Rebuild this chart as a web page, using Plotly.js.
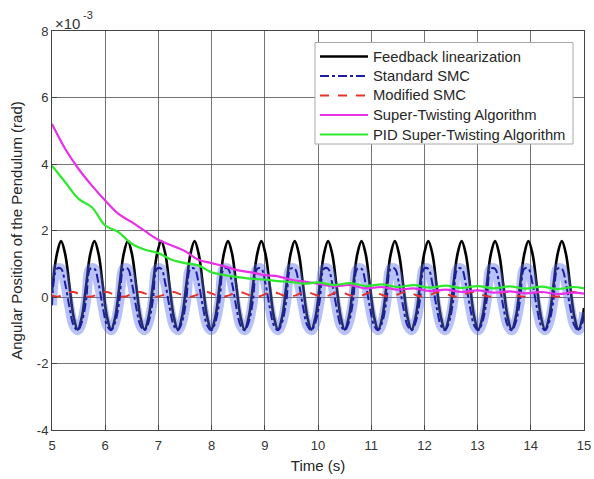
<!DOCTYPE html>
<html><head><meta charset="utf-8">
<script src="https://cdn.plot.ly/plotly-3.0.1.min.js"></script>
<style>html,body{margin:0;padding:0;background:#fff;}#chart{width:594px;height:479px;}</style>
</head><body><div id="chart"></div>
<script>
// Time samples for the oscillating responses (s)
var tOsc = [5.000,5.092,
5.170,5.248,5.327,5.405,5.484,5.562,5.641,5.719,
5.798,5.876,5.954,6.033,6.111,6.190,6.268,6.347,
6.425,6.503,6.582,6.660,6.739,6.817,6.896,6.974,
7.053,7.131,7.209,7.288,7.366,7.445,7.523,7.602,
7.680,7.758,7.837,7.915,7.994,8.072,8.151,8.229,
8.308,8.386,8.464,8.543,8.621,8.700,8.778,8.857,
8.935,9.013,9.092,9.170,9.249,9.327,9.406,9.484,
9.563,9.641,9.719,9.798,9.876,9.955,10.033,10.112,
10.190,10.268,10.347,10.425,10.504,10.582,10.661,10.739,
10.818,10.896,10.974,11.053,11.131,11.210,11.288,11.367,
11.445,11.523,11.602,11.680,11.759,11.837,11.916,11.994,
12.073,12.151,12.229,12.308,12.386,12.465,12.543,12.622,
12.700,12.778,12.857,12.935,13.014,13.092,13.171,13.249,
13.328,13.406,13.484,13.563,13.641,13.720,13.798,13.877,
13.955,14.033,14.112,14.190,14.269,14.347,14.426,14.504,
14.583,14.661,14.739,14.818,14.896,14.975,15.000];

// Feedback linearization (x1e-3 rad)
var feedbackLin = [0.19,1.29,
1.68,1.29,0.35,-0.59,-0.98,-0.59,0.35,1.29,
1.68,1.29,0.35,-0.59,-0.98,-0.59,0.35,1.29,
1.68,1.29,0.35,-0.59,-0.98,-0.59,0.35,1.29,
1.68,1.29,0.35,-0.59,-0.98,-0.59,0.35,1.29,
1.68,1.29,0.35,-0.59,-0.98,-0.59,0.35,1.29,
1.68,1.29,0.35,-0.59,-0.98,-0.59,0.35,1.29,
1.68,1.29,0.35,-0.59,-0.98,-0.59,0.35,1.29,
1.68,1.29,0.35,-0.59,-0.98,-0.59,0.35,1.29,
1.68,1.29,0.35,-0.59,-0.98,-0.59,0.35,1.29,
1.68,1.29,0.35,-0.59,-0.98,-0.59,0.35,1.29,
1.68,1.29,0.35,-0.59,-0.98,-0.59,0.35,1.29,
1.68,1.29,0.35,-0.59,-0.98,-0.59,0.35,1.29,
1.68,1.29,0.35,-0.59,-0.98,-0.59,0.35,1.29,
1.68,1.29,0.35,-0.59,-0.98,-0.59,0.35,1.29,
1.68,1.29,0.35,-0.59,-0.98,-0.59,0.35,1.29,
1.68,1.29,0.35,-0.59,-0.98,-0.59,-0.33];

// Standard SMC (x1e-3 rad)
var standardSMC = [-0.25,0.85,
0.85,0.40,-0.30,-0.85,-1.00,-0.75,-0.10,0.85,
0.85,0.40,-0.30,-0.85,-1.00,-0.75,-0.10,0.85,
0.85,0.40,-0.30,-0.85,-1.00,-0.75,-0.10,0.85,
0.85,0.40,-0.30,-0.85,-1.00,-0.75,-0.10,0.85,
0.85,0.40,-0.30,-0.85,-1.00,-0.75,-0.10,0.85,
0.85,0.40,-0.30,-0.85,-1.00,-0.75,-0.10,0.85,
0.85,0.40,-0.30,-0.85,-1.00,-0.75,-0.10,0.85,
0.85,0.40,-0.30,-0.85,-1.00,-0.75,-0.10,0.85,
0.85,0.40,-0.30,-0.85,-1.00,-0.75,-0.10,0.85,
0.85,0.40,-0.30,-0.85,-1.00,-0.75,-0.10,0.85,
0.85,0.40,-0.30,-0.85,-1.00,-0.75,-0.10,0.85,
0.85,0.40,-0.30,-0.85,-1.00,-0.75,-0.10,0.85,
0.85,0.40,-0.30,-0.85,-1.00,-0.75,-0.10,0.85,
0.85,0.40,-0.30,-0.85,-1.00,-0.75,-0.10,0.85,
0.85,0.40,-0.30,-0.85,-1.00,-0.75,-0.10,0.85,
0.85,0.40,-0.30,-0.85,-1.00,-0.75,-0.45];

// Modified SMC (x1e-3 rad)
var modifiedSMC = [0.05,0.01,
0.04,0.09,0.14,0.15,0.11,0.06,0.02,0.01,
0.04,0.09,0.14,0.15,0.11,0.06,0.02,0.01,
0.04,0.09,0.14,0.15,0.11,0.06,0.02,0.01,
0.04,0.09,0.14,0.15,0.11,0.06,0.02,0.01,
0.04,0.09,0.14,0.15,0.11,0.06,0.02,0.01,
0.04,0.09,0.14,0.15,0.11,0.06,0.02,0.01,
0.04,0.09,0.14,0.15,0.11,0.06,0.02,0.01,
0.04,0.09,0.14,0.15,0.11,0.06,0.02,0.01,
0.04,0.09,0.14,0.15,0.11,0.06,0.02,0.01,
0.04,0.09,0.14,0.15,0.11,0.06,0.02,0.01,
0.04,0.09,0.14,0.15,0.11,0.06,0.02,0.01,
0.04,0.09,0.14,0.15,0.11,0.06,0.02,0.01,
0.04,0.09,0.14,0.15,0.11,0.06,0.02,0.01,
0.04,0.09,0.14,0.15,0.11,0.06,0.02,0.01,
0.04,0.09,0.14,0.15,0.11,0.06,0.02,0.01,
0.04,0.09,0.14,0.15,0.11,0.06,0.03];

// Time samples for the decaying responses (s)
var tDecay = [5.00,5.25,5.50,5.75,6.00,6.25,6.50,6.75,7.00,7.25,7.50,7.75,8.00,8.25,8.50,8.75,
9.00,9.25,9.50,9.75,10.00,10.30,10.60,10.90,11.20,11.50,11.80,12.10,12.40,12.70,
13.00,13.30,13.60,13.90,14.20,14.50,14.80,15.00];

// Super-Twisting Algorithm (x1e-3 rad)
var superTwisting = [5.20,4.45,3.85,3.35,2.90,2.50,2.25,1.98,1.72,1.55,1.38,1.12,1.02,0.92,0.80,0.74,
0.66,0.62,0.52,0.46,0.40,0.32,0.36,0.26,0.30,0.22,0.26,0.18,0.22,0.15,
0.20,0.13,0.17,0.11,0.15,0.09,0.13,0.10];

// PID Super-Twisting Algorithm (x1e-3 rad)
var pidSuperTwisting = [3.95,3.45,2.95,2.70,2.15,1.95,1.60,1.42,1.32,1.12,1.02,0.95,0.74,0.66,0.60,0.55,
0.52,0.48,0.45,0.40,0.44,0.36,0.42,0.33,0.38,0.30,0.36,0.28,0.34,0.27,
0.33,0.26,0.32,0.25,0.31,0.24,0.30,0.26];

var xTicks = [5,6,7,8,9,10,11,12,13,14,15];
var yTickVals = [-4,-2,0,2,4,6,8];
var yTickText = ['-4','-2','0','2','4','6','8'];

var seriesNames = ['Feedback linearization','Standard SMC','Modified SMC','Super-Twisting Algorithm','PID Super-Twisting Algorithm'];
var seriesColors = ['#000000','#1c1ca6','#e8322e','#e830e8','#2ee82e'];
var seriesDash = ['solid','dashdot','dash','solid','solid'];
var seriesWidth = [2.6,2,2,2.2,2.2];

var F = 'Liberation Sans, Arial, sans-serif';
function ln(i){ return {color:seriesColors[i], width:seriesWidth[i], dash:seriesDash[i], shape:'spline', smoothing:1}; }
var traces = [
  {x:tOsc, y:feedbackLin, mode:'lines', name:seriesNames[0], line:ln(0)},
  {x:tOsc, y:standardSMC, mode:'lines', name:'chattering band', hoverinfo:'skip',
   line:{color:'rgba(85,110,235,0.42)', width:10, shape:'spline', smoothing:1}},
  {x:tOsc, y:standardSMC, mode:'lines', name:seriesNames[1], line:ln(1)},
  {x:tOsc, y:modifiedSMC, mode:'lines', name:seriesNames[2], line:ln(2)},
  {x:tDecay, y:superTwisting, mode:'lines', name:seriesNames[3], line:ln(3)},
  {x:tDecay, y:pidSuperTwisting, mode:'lines', name:seriesNames[4], line:ln(4)}
];

var axisCommon = {
  showline:true, linecolor:'#444', linewidth:1, mirror:true,
  ticks:'inside', ticklen:5, tickcolor:'#444',
  showgrid:true, gridcolor:'rgba(70,70,70,0.75)', gridwidth:1,
  zeroline:false, tickfont:{family:F, size:13, color:'#333'}
};

// pixel -> paper helpers for the legend box (plot area 52..584 x 31..430)
function px(v){ return (v-52)/532; }
function py(v){ return (430-v)/399; }

var shapes = [{type:'rect', xref:'paper', yref:'paper', x0:px(315), x1:px(573), y0:py(144), y1:py(42.5),
  fillcolor:'#ffffff', line:{color:'#a8a8a8', width:1}, layer:'above'}];
var annotations = [
  {xref:'paper', yref:'paper', x:px(53), y:py(23), xanchor:'left', yanchor:'middle',
   text:'×10', showarrow:false, font:{family:F, size:15, color:'#333'}},
  {xref:'paper', yref:'paper', x:px(81), y:py(15), xanchor:'left', yanchor:'middle',
   text:'-3', showarrow:false, font:{family:F, size:11, color:'#333'}}
];
var rowY = [56.5, 76, 95.5, 115, 134.5];
for (var i=0;i<seriesNames.length;i++){
  shapes.push({type:'line', xref:'paper', yref:'paper', x0:px(320), x1:px(368), y0:py(rowY[i]), y1:py(rowY[i]),
    line:{color:seriesColors[i], width:seriesWidth[i], dash:seriesDash[i]}, layer:'above'});
  annotations.push({xref:'paper', yref:'paper', x:px(371), y:py(rowY[i]), xanchor:'left', yanchor:'middle',
    text:seriesNames[i], showarrow:false, font:{family:F, size:14.8, color:'#262626'}});
}

var layout = {
  width:594, height:479,
  margin:{l:52, r:10, t:31, b:49},
  paper_bgcolor:'#fff', plot_bgcolor:'#fff',
  font:{family:F, color:'#262626'},
  showlegend:false,
  xaxis: Object.assign({}, axisCommon, {
    range:[5,15], tickvals:xTicks, ticktext:xTicks.map(String), ticklabelstandoff:3,
    title:{text:'Time (s)', font:{family:F, size:15, color:'#262626'}, standoff:8}
  }),
  yaxis: Object.assign({}, axisCommon, {
    range:[-4,8], tickvals:yTickVals, ticktext:yTickText,
    title:{text:'Angular Position of the Pendulum (rad)', font:{family:F, size:15, color:'#262626'}, standoff:10}
  }),
  shapes:shapes,
  annotations:annotations
};

Plotly.newPlot('chart', traces, layout, {displayModeBar:false, staticPlot:true});
</script></body></html>
